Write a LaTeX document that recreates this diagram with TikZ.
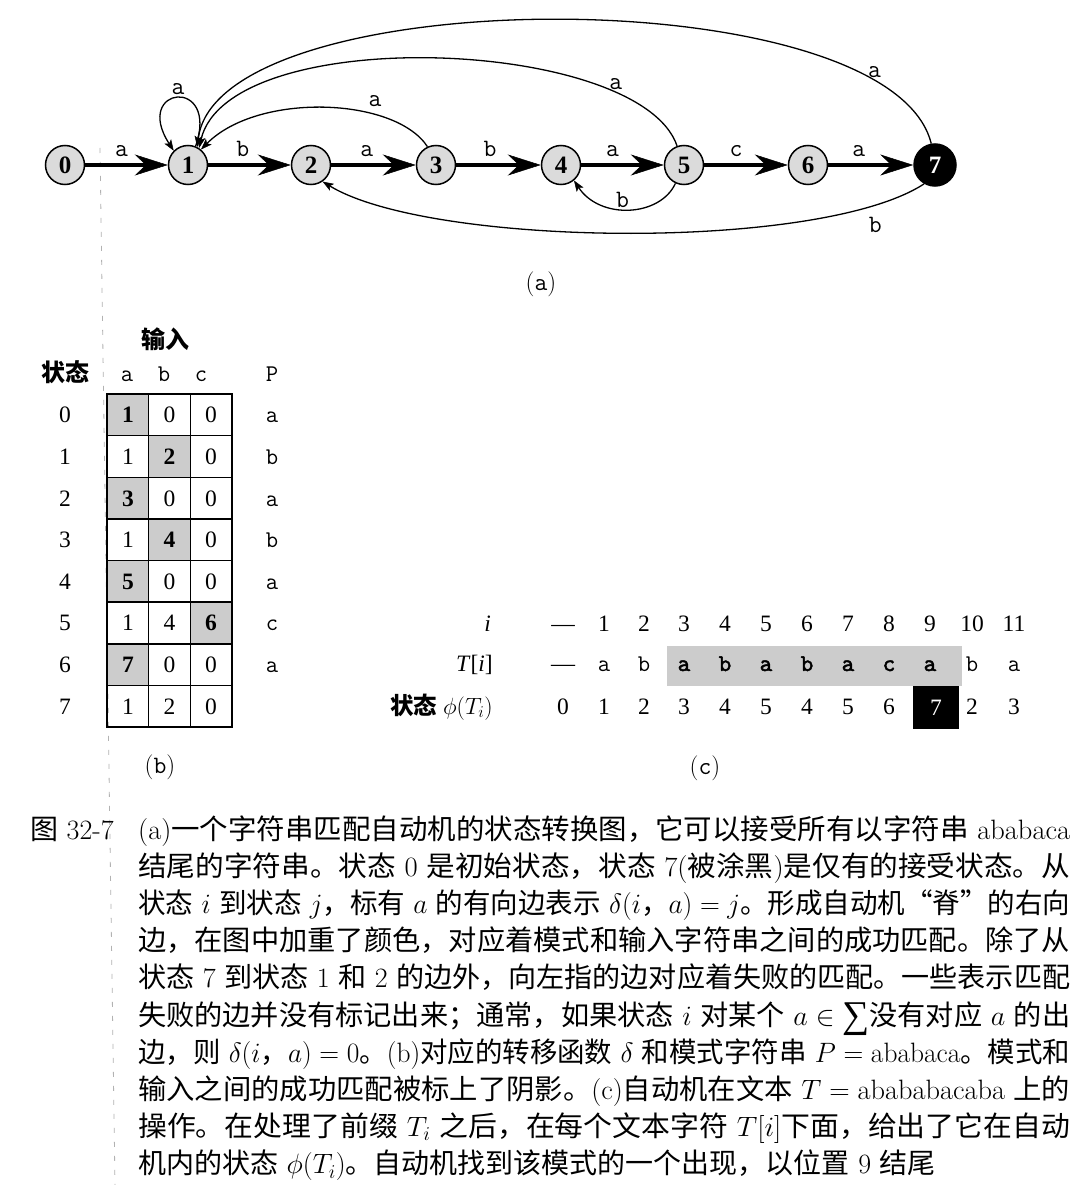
\RequirePackage{fix-cm}
\documentclass[tikz,border=0pt]{standalone}
\usepackage{fontspec}
\usepackage{graphicx}
\usetikzlibrary{arrows.meta}
\newfontfamily\cjk{Noto Sans CJK SC}
\newfontfamily\tms{Liberation Serif}
\newfontfamily\ttbold{lmmono10-regular.otf}[FakeBold=2]
\newcommand\zh[1]{{\cjk #1}}
\newcommand\B[1]{{\bfseries #1}}
\newcommand\TB[1]{{\ttbold #1}}
\begin{document}
\begin{tikzpicture}[x=1pt,y=-1pt,
  stnode/.style={circle, draw, line width=1.5pt, fill=black!14, minimum size=39pt, inner sep=0pt, font=\fontsize{25}{25}\selectfont\tms\bfseries},
  acnode/.style={stnode, fill=black, text=white, minimum size=42pt},
  spine/.style={line width=4pt, -{Stealth[length=33pt,width=21pt,inset=11pt,line width=0.5pt]}},
  backedge/.style={line width=1.3pt, -{Stealth[length=11pt,width=8pt,inset=2.5pt,line width=0.5pt]}},
  lab/.style={font=\fontsize{25}{25}\selectfont\ttfamily, inner sep=1pt},
  tb/.style={font=\fontsize{23.5}{24}\selectfont\tms, inner sep=0pt, anchor=base},
  tl/.style={font=\fontsize{24}{24}\selectfont\ttfamily, inner sep=0pt, anchor=base},
  hd/.style={font=\fontsize{24}{24}\selectfont\cjk\bfseries, inner sep=0pt, anchor=base},
  sublab/.style={font=\fontsize{25}{25}\selectfont, inner sep=0pt},
  captxt/.style={font=\fontsize{28}{37}\selectfont, inner sep=0pt, anchor=base west},
  shd/.style={fill=black!20},
  tabline/.style={line width=1.5pt}]
\useasboundingbox (0,0) rectangle (1085,1185);
\fill[white] (0,0) rectangle (1085,1185);

% faint scan line
\coordinate (fa) at (100,148);
\coordinate (fb) at (115,1185);
\draw[black!30, line width=0.8pt, dash pattern=on 5pt off 9pt] (fa) -- (fb);

% ---------- (a) automaton ----------
\node[stnode] (n0) at (65,165) {0};
\node[stnode] (n1) at (188,165) {1};
\node[stnode] (n2) at (311,165) {2};
\node[stnode] (n3) at (436,165) {3};
\node[stnode] (n4) at (561,165) {4};
\node[stnode] (n5) at (684,165) {5};
\node[stnode] (n6) at (808,165) {6};
\node[acnode] (n7) at (935,165) {7};

\draw[spine] (n0) -- node[lab, pos=0.44, anchor=base, yshift=8pt] (l01) {a} (n1);
\draw[spine] (n1) -- node[lab, pos=0.42, anchor=base, yshift=8pt] (l12) {b} (n2);
\draw[spine] (n2) -- node[lab, pos=0.42, anchor=base, yshift=8pt] (l23) {a} (n3);
\draw[spine] (n3) -- node[lab, pos=0.40, anchor=base, yshift=8pt] (l34) {b} (n4);
\draw[spine] (n4) -- node[lab, pos=0.38, anchor=base, yshift=8pt] (l45) {a} (n5);
\draw[spine] (n5) -- node[lab, pos=0.38, anchor=base, yshift=8pt] (l56) {c} (n6);
\draw[spine] (n6) -- node[lab, pos=0.36, anchor=base, yshift=8pt] (l67) {a} (n7);

% self loop on 1
\draw[backedge] (n1.68) .. controls (220,76) and (132,86) .. node[lab, pos=0.5, above=2pt] (la1) {a} (n1.135);
% 3 -> 1
\draw[backedge] (n3.115) .. controls (395,97) and (258,92) .. node[lab, pos=0.3, above=6pt] (la2) {a} (n1.50);
% 5 -> 1
\draw[backedge] (n5.110) .. controls (640,37) and (228,22) .. node[lab, pos=0.2, above=1pt] (la3) {a} (n1.57);
% 7 -> 1
\draw[backedge] (n7.100) .. controls (890,-23) and (218,-20) .. node[lab, pos=0.15, above=1pt] (la4) {a} (n1.63);
% 5 -> 4
\draw[backedge] (n5.-115) .. controls (660,217) and (600,220) .. node[lab, pos=0.55, above=0pt] (lb1) {b} (n4.-50);
% 7 -> 2
\draw[backedge] (n7.240) .. controls (820,252) and (430,247) .. node[lab, pos=0.12, below=10pt] (lb2) {b} (n2.-55);

\node[sublab] (suba) at (541,284) {(\texttt{a})};

% ---------- (b) table ----------
\node[hd] (hin) at (165,348) {输入};
\node[hd] (hst) at (65,381) {状态};
\node[tl] (ha) at (127,381) {a};
\node[tl] (hb) at (164,381) {b};
\node[tl] (hc) at (201,381) {c};
\node[tl] (hp) at (272,381) {P};

\foreach \r/\c in {0/0,1/1,2/0,3/1,4/0,5/2,6/0}
  \fill[shd] ({107+41.667*\c},{394+41.625*\r}) rectangle ({148.667+41.667*\c},{435.625+41.625*\r});
\draw[tabline] (107,394) rectangle (232,727);
\foreach \c in {1,2} \draw[tabline] ({107+41.667*\c},394) -- ({107+41.667*\c},727);
\foreach \r in {1,...,7} \draw[tabline] (107,{394+41.625*\r}) -- (232,{394+41.625*\r});

\foreach \r/\va/\vb/\vc/\p in {0/\B1/0/0/a,1/1/\B2/0/b,2/\B3/0/0/a,3/1/\B4/0/b,4/\B5/0/0/a,5/1/4/\B6/c,6/\B7/0/0/a,7/1/2/0/{}}{
  \pgfmathsetmacro\yb{422.8+41.625*\r}
  \node[tb] (s\r) at (65,\yb) {\r};
  \node[tb] (ca\r) at (128,\yb) {\va};
  \node[tb] (cb\r) at (169.5,\yb) {\vb};
  \node[tb] (cc\r) at (211,\yb) {\vc};
  \node[tl] (p\r) at (272,\yb) {\p};
}
\node[sublab] (subb) at (160,767) {(\texttt{b})};

% ---------- (c) run ----------
\fill[shd] (667,646) rectangle (962,686);
\node[tb, anchor=base east] (li) at (491,631) {\itshape i};
\node[tb, anchor=base east] (lt) at (493,671) {\itshape T\/\upshape[\itshape i\upshape]};
\node[tb, anchor=base east] (lf) at (493,714) {{\cjk\bfseries 状态} $\phi(T_i)$};

\foreach \x/\v [count=\k from 0] in {563/—,604/1,644/2,684/3,725/4,766/5,807/6,848/7,889/8,930/9,972/10,1014/11}
  \node[tb] (ci\k) at (\x,631) {\v};
\foreach \x/\v [count=\k from 0] in {563/{\tms —},604/a,644/b,684/\TB{a},725/\TB{b},766/\TB{a},807/\TB{b},848/\TB{a},889/\TB{c},930/\TB{a},972/b,1014/a}
  \node[tl] (ct\k) at (\x,671) {\v};
\foreach \k/\x/\v in {0/563/0,1/604/1,2/644/2,3/684/3,4/725/4,5/766/5,6/807/4,7/848/5,8/889/6,10/972/2,11/1014/3}
  \node[tb] (cf\k) at (\x,714) {\v};
\node[tb, anchor=center, fill=black, text=white, minimum width=46pt, minimum height=43pt] (cf9) at (936,707.5) {7};

\node[sublab] (subc) at (705,768) {(\texttt{c})};

% ---------- caption ----------
\node[captxt] (fig) at (30,839) {\zh{图} 32-7};
\node[captxt] (c1) at (138,839) {\resizebox{932pt}{\height}{(a)\zh{一个字符串匹配自动机的状态转换图，它可以接受所有以字符串} ababaca}};
\node[captxt] (c2) at (138,876.2) {\resizebox{932pt}{\height}{\zh{结尾的字符串。状态} 0 \zh{是初始状态，状态} 7(\zh{被涂黑})\zh{是仅有的接受状态。从}}};
\node[captxt] (c3) at (138,913.4) {\resizebox{932pt}{\height}{\zh{状态} $i$ \zh{到状态} $j$\zh{，标有} $a$ \zh{的有向边表示} $\delta(i$\zh{，}$a)=j$\zh{。形成自动机“脊”的右向}}};
\node[captxt] (c4) at (138,950.6) {\resizebox{932pt}{\height}{\zh{边，在图中加重了颜色，对应着模式和输入字符串之间的成功匹配。除了从}}};
\node[captxt] (c5) at (138,987.8) {\resizebox{932pt}{\height}{\zh{状态} 7 \zh{到状态} 1 \zh{和} 2 \zh{的边外，向左指的边对应着失败的匹配。一些表示匹配}}};
\node[captxt] (c6) at (138,1025) {\resizebox{932pt}{\height}{\zh{失败的边并没有标记出来；通常，如果状态} $i$ \zh{对某个} $a\in{}$\raisebox{-2pt}{\scalebox{1.35}{\tms ∑}}\zh{没有对应} $a$ \zh{的出}}};
\node[captxt] (c7) at (138,1062.2) {\resizebox{932pt}{\height}{\zh{边，则} $\delta(i$\zh{，}$a)=0$\zh{。}(b)\zh{对应的转移函数} $\delta$ \zh{和模式字符串} $P={}$ababaca\zh{。模式和}}};
\node[captxt] (c8) at (138,1099.4) {\resizebox{932pt}{\height}{\zh{输入之间的成功匹配被标上了阴影。}(c)\zh{自动机在文本} $T={}$abababacaba \zh{上的}}};
\node[captxt] (c9) at (138,1136.6) {\resizebox{932pt}{\height}{\zh{操作。在处理了前缀} $T_i$ \zh{之后，在每个文本字符} $T[i]$\zh{下面，给出了它在自动}}};
\node[captxt] (c10) at (138,1173.8) {\zh{机内的状态} $\phi(T_i)$\zh{。自动机找到该模式的一个出现，以位置} 9 \zh{结尾}};
\end{tikzpicture}
\end{document}
